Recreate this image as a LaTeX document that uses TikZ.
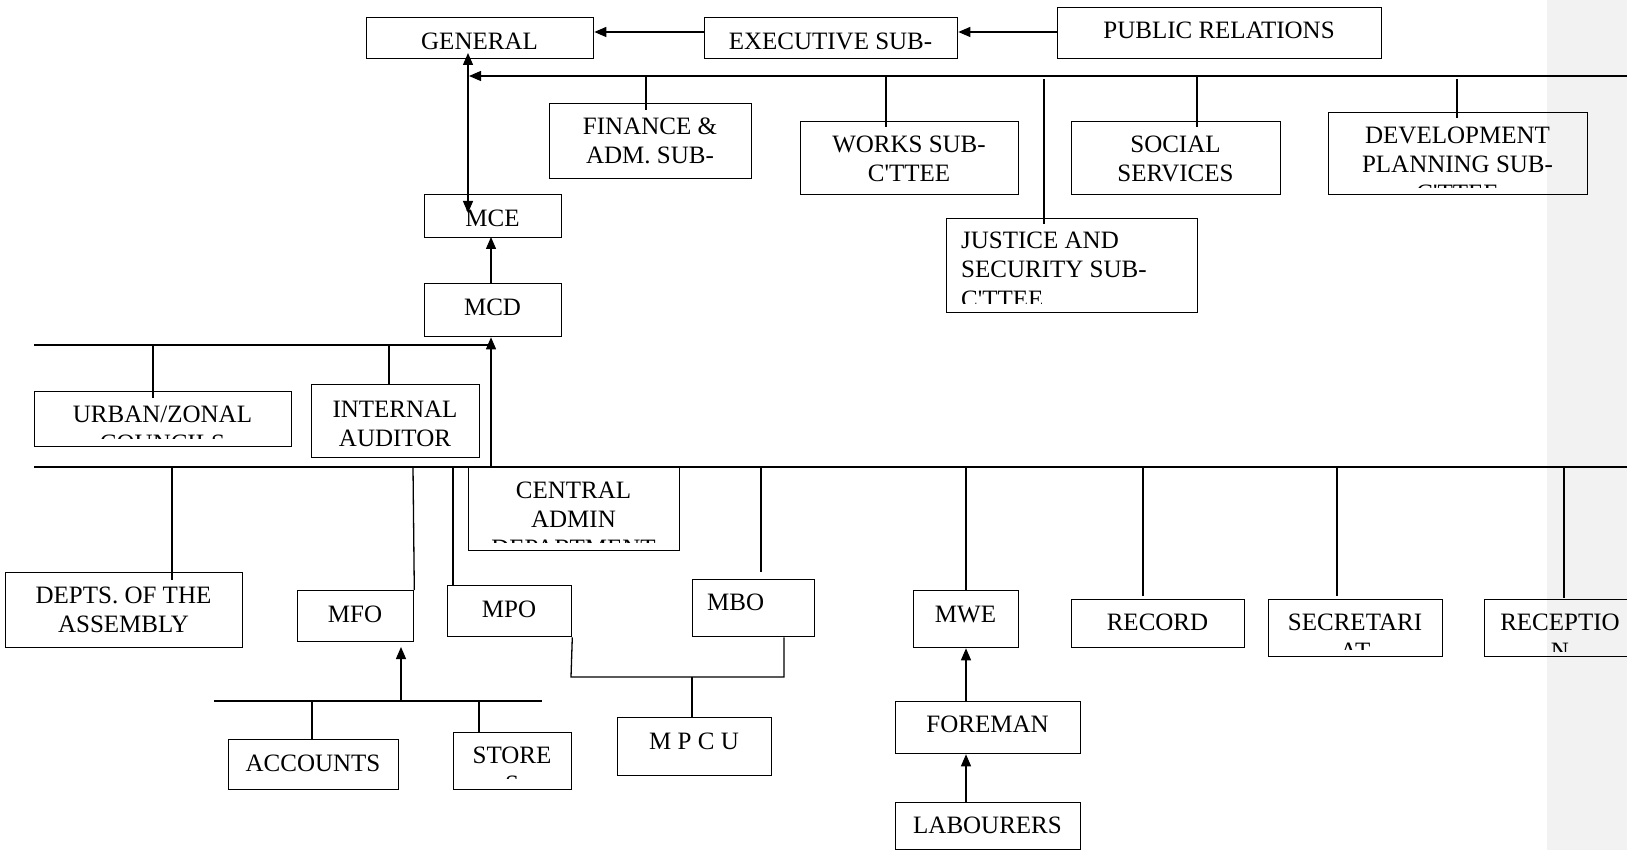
\documentclass[tikz,border=0pt]{standalone}
\usepackage{fontspec}
\setmainfont{Liberation Serif}[Ligatures=TeXOff]
\usetikzlibrary{arrows.meta,calc}
\definecolor{panel}{RGB}{242,242,242}
\tikzset{
  box/.style={draw, line width=1.3pt, rectangle, inner sep=0pt, anchor=north west},
  txt/.style={inner sep=0pt, anchor=base, font=\fontsize{25}{29}\selectfont},
  ltxt/.style={txt, anchor=base west},
  ln/.style={line width=1.3pt},
  arr/.style={line width=1.3pt, -{Triangle[length=12pt,width=10pt]}},
  darr/.style={line width=1.3pt, {Triangle[length=12pt,width=10pt]}-{Triangle[length=12pt,width=10pt]}},
}
\newcommand\mybox[5]{\node[box, minimum width={#4-#2}, minimum height={#5-#3}] (#1) at (#2,#3) {};}
\begin{document}
\begin{tikzpicture}[x=1pt,y=-1pt]
\useasboundingbox (0,0) rectangle (1627,850);
\clip (0,0) rectangle (1627,850);
\fill[panel] (1547,0) rectangle (1627,850);

% ---------- boxes ----------
\mybox{general}{366}{17}{593}{58}
\mybox{exec}{704}{17}{957}{58}
\mybox{public}{1057}{7}{1381}{58}
\mybox{finance}{549}{103}{751}{178}
\mybox{works}{800}{121}{1018}{194}
\mybox{social}{1071}{121}{1280}{194}
\mybox{develop}{1328}{112}{1587}{194}
\mybox{justice}{946}{218}{1197}{312}
\mybox{mce}{424}{194}{561}{237}
\mybox{mcd}{424}{283}{561}{336}
\mybox{urban}{34}{391}{291}{446}
\mybox{internal}{311}{384}{479}{457}
\mybox{central}{468}{467}{679}{550}
\mybox{depts}{5}{572}{242}{647}
\mybox{mfo}{297}{590}{413}{641}
\mybox{mpo}{447}{585}{571}{636}
\mybox{mbo}{692}{579}{814}{636}
\mybox{mpcu}{617}{717}{771}{775}
\mybox{mwe}{913}{590}{1018}{647}
\mybox{record}{1071}{599}{1244}{647}
\mybox{secret}{1268}{599}{1442}{656}
\mybox{recept}{1484}{599}{1636}{656}
\mybox{accounts}{228}{739}{398}{789}
\mybox{stores}{453}{732}{571}{789}
\mybox{foreman}{895}{701}{1080}{753}
\mybox{labour}{895}{802}{1080}{849}

% ---------- texts ----------
\node[txt] (tgeneral) at (479.5,50) {GENERAL};
\node[txt] (texec) at (830.5,50) {EXECUTIVE SUB-};
\node[txt] (tpublic) at (1219,39) {PUBLIC RELATIONS};
\node[txt] (tfin1) at (650,135) {FINANCE \&};
\node[txt] (tfin2) at (650,164) {ADM. SUB-};
\node[txt] (twork1) at (909,153) {WORKS SUB-};
\node[txt] (twork2) at (909,182) {C'TTEE};
\node[txt] (tsoc1) at (1175.5,153) {SOCIAL};
\node[txt] (tsoc2) at (1175.5,182) {SERVICES};
\node[txt] (tdev1) at (1457.5,144) {DEVELOPMENT};
\node[txt] (tdev2) at (1457.5,173) {PLANNING SUB-};
\begin{scope}
  \clip (1328,112) rectangle (1587,188);
  \node[txt] (tdev3) at (1457.5,202) {C'TTEE};
\end{scope}
\node[ltxt] (tjus1) at (961,249) {JUSTICE AND};
\node[ltxt] (tjus2) at (961,278) {SECURITY SUB-};
\begin{scope}
  \clip (946,218) rectangle (1197,303);
  \node[ltxt] (tjus3) at (961,307) {C'TTEE};
\end{scope}
\node[txt] (tmce) at (492.5,227) {MCE};
\node[txt] (tmcd) at (492.5,315) {MCD};
\node[txt] (turb1) at (162.5,422) {URBAN/ZONAL};
\begin{scope}
  \clip (34,391) rectangle (291,438);
  \node[txt] (turb2) at (162.5,451) {COUNCILS};
\end{scope}
\node[txt] (tint1) at (395,417) {INTERNAL};
\node[txt] (tint2) at (395,446) {AUDITOR};
\node[txt] (tcen1) at (573.5,498) {CENTRAL};
\node[txt] (tcen2) at (573.5,527) {ADMIN};
\begin{scope}
  \clip (468,467) rectangle (679,542);
  \node[txt] (tcen3) at (573.5,556) {DEPARTMENT};
\end{scope}
\node[txt] (tdep1) at (123.5,603) {DEPTS. OF THE};
\node[txt] (tdep2) at (123.5,632) {ASSEMBLY};
\node[txt] (tmfo) at (355,622) {MFO};
\node[txt] (tmpo) at (509,617) {MPO};
\node[ltxt] (tmbo) at (707,610) {MBO};
\node[txt] (tmpcu) at (694,749) {M P C U};
\node[txt] (tmwe) at (965.5,622) {MWE};
\node[txt] (trec) at (1157.5,630) {RECORD};
\node[txt] (tsec1) at (1355,630) {SECRETARI};
\begin{scope}
  \clip (1268,599) rectangle (1442,649);
  \node[txt] (tsec2) at (1355,659) {AT};
\end{scope}
\node[txt] (trcp1) at (1560,630) {RECEPTIO};
\begin{scope}
  \clip (1484,599) rectangle (1636,651);
  \node[txt] (trcp2) at (1560,659) {N};
\end{scope}
\node[txt] (tacc) at (313,771) {ACCOUNTS};
\node[txt] (tsto1) at (512,763) {STORE};
\begin{scope}
  \clip (453,732) rectangle (571,778);
  \node[txt] (tsto2) at (512,792) {S};
\end{scope}
\node[txt] (tfore) at (987.5,732) {FOREMAN};
\node[txt] (tlab) at (987.5,833) {LABOURERS};

% ---------- bus coordinates ----------
\coordinate (topbusR) at (1627,76);
\coordinate (topbusL) at (469,76);
\coordinate (midbusL) at (34,345);
\coordinate (midbusR) at (491,345);
\coordinate (lowbusL) at (34,467);
\coordinate (lowbusR) at (1627,467);
\coordinate (accbusL) at (214,701);
\coordinate (accbusR) at (542,701);

% ---------- connectors (top) ----------
\draw[arr] (exec.west |- 0,32) -- (general.east |- 0,32);
\draw[arr] (public.west |- 0,32) -- (exec.east |- 0,32);
\draw[arr] (topbusR) -- (topbusL);
\draw[darr] (468,213) -- (468,53);
\draw[ln] (646,76) -- (646,110);
\draw[ln] (886,76) -- (886,127);
\draw[ln] (1044,79) -- (1044,224);
\draw[ln] (1197,76) -- (1197,127);
\draw[ln] (1457,79) -- (1457,118);
\draw[arr] (491,283) -- (491,237);

% ---------- connectors (middle) ----------
\draw[ln] (midbusL) -- (midbusR);
\draw[ln] (153,345) -- (153,398);
\draw[ln] (389,345) -- (internal.north -| 389,0);
\draw[ln] (lowbusL) -- (lowbusR);
\draw[arr] (491,467) -- (mcd.south -| 491,0);
\draw[ln] (172,467) -- (172,580);
\draw[ln] (413,467) -- (mfo.north east);
\draw[ln] (453,467) -- (453,586);
\draw[ln] (761,467) -- (761,572);
\draw[ln] (966,467) -- (mwe.north -| 966,0);
\draw[ln] (1143,467) -- (1143,596);
\draw[ln] (1337,467) -- (1337,596);
\draw[ln] (1564,467) -- (1564,598);

% ---------- connectors (lower) ----------
\draw[ln] (accbusL) -- (accbusR);
\draw[arr] (401,701) -- (401,647);
\draw[ln] (312,701) -- (accounts.north -| 312,0);
\draw[ln] (479,701) -- (stores.north -| 479,0);
\draw[ln] (mpo.south east) -- (571,677) -- (784,677) -- (mbo.south -| 784,0);
\draw[ln] (692,677) -- (mpcu.north -| 692,0);
\draw[arr] (foreman.north -| 966,0) -- (mwe.south -| 966,0);
\draw[arr] (labour.north -| 966,0) -- (foreman.south -| 966,0);
\end{tikzpicture}
\end{document}
